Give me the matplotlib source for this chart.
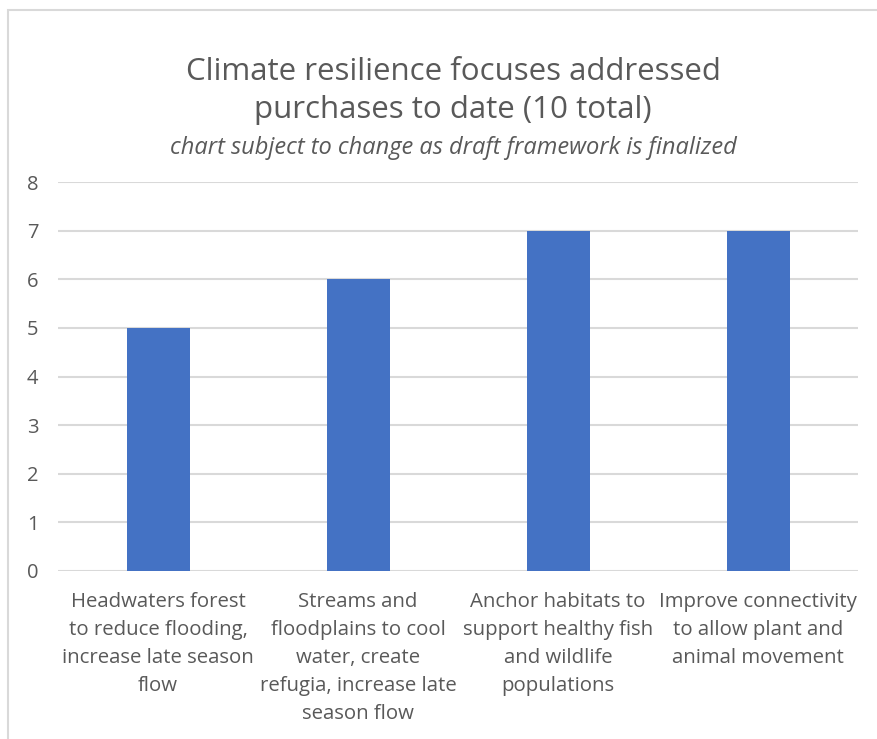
import matplotlib
matplotlib.use("Agg")
import matplotlib.pyplot as plt
from matplotlib.patches import Rectangle

categories = [
    "Headwaters forest\nto reduce flooding,\nincrease late season\nflow",
    "Streams and\nfloodplains to cool\nwater, create\nrefugia, increase late\nseason flow",
    "Anchor habitats to\nsupport healthy fish\nand wildlife\npopulations",
    "Improve connectivity\nto allow plant and\nanimal movement",
]
values = [5, 6, 7, 7]
yticks = [0, 1, 2, 3, 4, 5, 6, 7, 8]

TEXT = "#595959"
GRID = "#d9d9d9"
BAR = "#4472c4"
FONT = "Open Sans"

W, H = 877, 739
fig = plt.figure(figsize=(W / 100, H / 100), dpi=100)
fig.patch.set_facecolor("white")

# chart border (cut off at right and bottom)
fig.patches.append(Rectangle((8 / W, -0.1), 1.2, (H - 10) / H + 0.1,
                             transform=fig.transFigure, fill=False,
                             edgecolor=GRID, linewidth=1.5, zorder=0))

ax = fig.add_axes([58 / W, (H - 571) / H, 800 / W, (571 - 182) / H])
x = list(range(len(categories)))
ax.bar(x, values, width=0.315, color=BAR, zorder=3)
ax.set_xlim(-0.5, len(categories) - 0.5)
ax.set_ylim(0, 8)
ax.set_yticks(yticks)
ax.set_yticklabels([str(t) for t in yticks], fontsize=14.5, color=TEXT, family=FONT)
ax.set_xticks(x)
ax.set_xticklabels(categories, fontsize=14.7, color=TEXT, family=FONT, linespacing=1.54, va="top")
ax.tick_params(axis="both", length=0)
ax.tick_params(axis="y", pad=14)
ax.tick_params(axis="x", pad=15)
ax.yaxis.grid(True, color=GRID, linewidth=1.5, zorder=0)
ax.set_axisbelow(True)
for s in ax.spines.values():
    s.set_visible(False)

fig.text(453 / W, 1 - 91 / H, "Climate resilience focuses addressed\npurchases to date (10 total)",
         ha="center", va="center", fontsize=22.5, color=TEXT, family=FONT,
         linespacing=1.38)
fig.text(453 / W, 1 - 148 / H, "chart subject to change as draft framework is finalized",
         ha="center", va="center", fontsize=17, color=TEXT, family=FONT, style="italic")

fig.savefig("out.png", dpi=100, facecolor="white")
